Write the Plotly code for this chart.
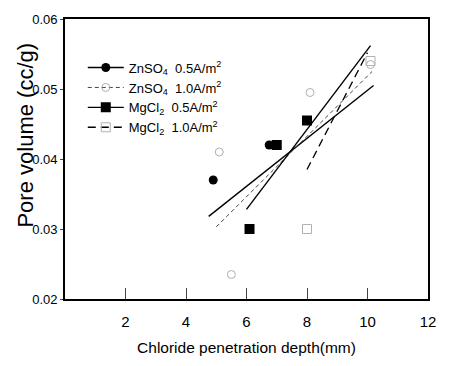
import plotly.graph_objects as go

# ---- data ----
depth_zn05 = [4.9, 6.75]
pv_zn05 = [0.037, 0.042]
depth_zn10 = [5.1, 5.5, 8.1, 10.1]
pv_zn10 = [0.041, 0.0235, 0.0495, 0.0535]
depth_mg05 = [6.1, 7.0, 8.0]
pv_mg05 = [0.030, 0.042, 0.0455]
depth_mg10 = [8.0, 10.1]
pv_mg10 = [0.030, 0.054]

fit_zn05_x = [4.75, 10.2]
fit_zn05_y = [0.0318, 0.0505]
fit_zn10_x = [5.0, 10.15]
fit_zn10_y = [0.0303, 0.0525]
fit_mg05_x = [6.0, 10.1]
fit_mg05_y = [0.0328, 0.0562]
fit_mg10_x = [8.0, 10.0]
fit_mg10_y = [0.0385, 0.0552]

names = ["ZnSO<sub>4</sub>  0.5A/m<sup>2</sup>", "ZnSO<sub>4</sub>  1.0A/m<sup>2</sup>",
         "MgCl<sub>2</sub>  0.5A/m<sup>2</sup>", "MgCl<sub>2</sub>  1.0A/m<sup>2</sup>"]

x_ticks = [2, 4, 6, 8, 10, 12]
y_ticks = [0.02, 0.03, 0.04, 0.05, 0.06]

FONT = "Liberation Sans, Arial"
GRAY = "#b0b0b0"

styles = [
    dict(marker=dict(symbol="circle", size=9, color="black"), line=dict(color="black", width=1.4)),
    dict(marker=dict(symbol="circle-open", size=8, color=GRAY, line=dict(width=1)), line=dict(color="#444444", width=1, dash="4px,3px")),
    dict(marker=dict(symbol="square", size=10, color="black"), line=dict(color="black", width=1.4)),
    dict(marker=dict(symbol="square-open", size=9, color=GRAY, line=dict(width=1)), line=dict(color="black", width=1.3, dash="8px,5px")),
]
pts = [(depth_zn05, pv_zn05), (depth_zn10, pv_zn10), (depth_mg05, pv_mg05), (depth_mg10, pv_mg10)]
fits = [(fit_zn05_x, fit_zn05_y), (fit_zn10_x, fit_zn10_y), (fit_mg05_x, fit_mg05_y), (fit_mg10_x, fit_mg10_y)]

fig = go.Figure()
for (fx, fy), st in zip(fits, styles):
    fig.add_trace(go.Scatter(x=fx, y=fy, mode="lines", line=st["line"], showlegend=False, hoverinfo="skip"))
for (px, py), st in zip(pts, styles):
    fig.add_trace(go.Scatter(x=px, y=py, mode="markers", marker=st["marker"], showlegend=False))
for nm, st in zip(names, styles):
    fig.add_trace(go.Scatter(x=[None], y=[None], mode="lines+markers", name=nm,
                             marker=st["marker"], line=st["line"]))

fig.update_layout(
    width=450, height=366,
    margin=dict(l=65, r=22, t=16, b=64),
    paper_bgcolor="white", plot_bgcolor="white",
    font=dict(family=FONT, size=12, color="black"),
    showlegend=True,
    legend=dict(x=0.049, y=0.88, xanchor="left", yanchor="top", bgcolor="rgba(0,0,0,0)",
                font=dict(family=FONT, size=13), tracegroupgap=0, itemwidth=36),
    xaxis=dict(range=[0, 12], tickvals=x_ticks, ticks="inside", ticklen=11, tickwidth=1.2,
               showline=True, linecolor="black", linewidth=1.6, mirror=True, showgrid=False, zeroline=False,
               tickfont=dict(family=FONT, size=15), ticklabelstandoff=8,
               title=dict(text="Chloride penetration depth(mm)", font=dict(family=FONT, size=15.5), standoff=13)),
    yaxis=dict(range=[0.02, 0.06], tickvals=y_ticks, tickformat=".2f", ticks="outside", ticklen=3, tickwidth=1,
               showline=True, linecolor="black", linewidth=1.6, mirror=True, showgrid=False, zeroline=False,
               tickfont=dict(family=FONT, size=13)),
    annotations=[dict(text="Pore volume (cc/g)", xref="paper", yref="paper", x=-0.110, y=0.584,
                      xanchor="center", yanchor="middle",
                      showarrow=False, textangle=-90, font=dict(family=FONT, size=22))],
)
fig.write_html("out.html", config={"displayModeBar": False},
               post_script="document.body.style.margin='0';")
